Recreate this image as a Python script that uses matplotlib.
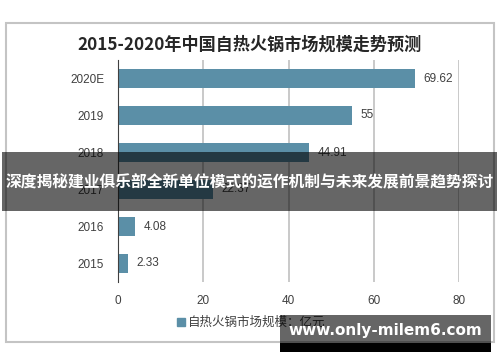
import matplotlib
matplotlib.use("Agg")
import matplotlib.pyplot as plt
from matplotlib.patches import Rectangle

plt.rcParams['font.family'] = ['Noto Sans CJK SC', 'DejaVu Sans']

# Dados
years = ["2015", "2016", "2017", "2018", "2019", "2020E"]
values = [2.33, 4.08, 22.37, 44.91, 55, 69.62]
value_labels = ["2.33", "4.08", "22.37", "44.91", "55", "69.62"]
x_ticks = [0, 20, 40, 60, 80]

title = "2015-2020年中国自热火锅市场规模走势预测"
legend_label = "自热火锅市场规模：亿元"
banner = "深度揭秘建业俱乐部全新单位模式的运作机制与未来发展前景趋势探讨"
watermark = "www.only-milem6.com"

bar_color = "#5b8fa7"
num_font = ["Liberation Sans", "DejaVu Sans"]


def main():
    fig = plt.figure(figsize=(5, 3.62), dpi=100)

    # Moldura externa
    fig.patches.append(Rectangle((6 / 500, 1 - 342 / 362), 488 / 500, 319 / 362,
                                 transform=fig.transFigure, fill=False,
                                 edgecolor="#c4c4c4", linewidth=1.5))

    fig.text(0.5, 1 - 45 / 362, title, ha="center", va="center",
             fontsize=12.3, fontweight="bold", color="#262626")

    ax = fig.add_axes([118 / 500, 1 - 282 / 362, 341 / 500, 222 / 362])
    pos = range(len(years))
    ax.barh(pos, values, height=0.5, color=bar_color, zorder=3)
    for p, v, lab in zip(pos, values, value_labels):
        ax.annotate(lab, (v, p), xytext=(6, 0), textcoords="offset points",
                    va="center", ha="left", fontsize=8.5, color="#404040",
                    family=num_font)

    ax.set_xlim(0, 80)
    ax.set_ylim(-0.5, len(years) - 0.5)
    ax.set_xticks(x_ticks)
    ax.set_yticks(list(pos))
    ax.set_yticklabels(years)
    ax.tick_params(axis="both", length=0, labelsize=8.5, colors="#404040")
    ax.tick_params(axis="x", pad=9)
    ax.tick_params(axis="y", pad=10)
    for lab in ax.get_xticklabels() + ax.get_yticklabels():
        lab.set_family(num_font)
    ax.grid(axis="x", color="#c0c0c0", linewidth=1.2, zorder=0)
    for s in ["top", "right", "bottom"]:
        ax.spines[s].set_visible(False)
    ax.spines["left"].set_color("#404040")
    ax.spines["left"].set_zorder(4)

    # Legenda
    fig.patches.append(Rectangle((177 / 500, 1 - 326 / 362), 8 / 500, 8 / 362,
                                 transform=fig.transFigure, color=bar_color))
    fig.text(188 / 500, 1 - 322 / 362, legend_label, ha="left", va="center",
             fontsize=9, color="#404040")

    # Faixa sobreposta
    fig.patches.append(Rectangle((2 / 500, 1 - 211 / 362), 495 / 500, 59 / 362,
                                 transform=fig.transFigure, facecolor="black",
                                 linewidth=0, alpha=0.6, zorder=10))
    fig.text(0.5, 1 - 182 / 362, banner, ha="center", va="center",
             fontsize=11.35, fontweight="bold", color="white", zorder=11)

    # Marca d'água
    fig.patches.append(Rectangle((280 / 500, 1 - 343 / 362), 211 / 500, 28 / 362,
                                 transform=fig.transFigure, facecolor="black",
                                 linewidth=0, alpha=0.6, zorder=10))
    fig.patches.append(Rectangle((280 / 500, 1 - 352 / 362), 211 / 500, 9 / 362,
                                 transform=fig.transFigure, facecolor="black",
                                 linewidth=0, zorder=10))
    fig.text(385 / 500, 1 - 331 / 362, watermark, ha="center", va="center",
             fontsize=11, fontweight="bold", color="white", zorder=11,
             family="DejaVu Sans")

    fig.savefig("out.png", dpi=100)


if __name__ == "__main__":
    main()
